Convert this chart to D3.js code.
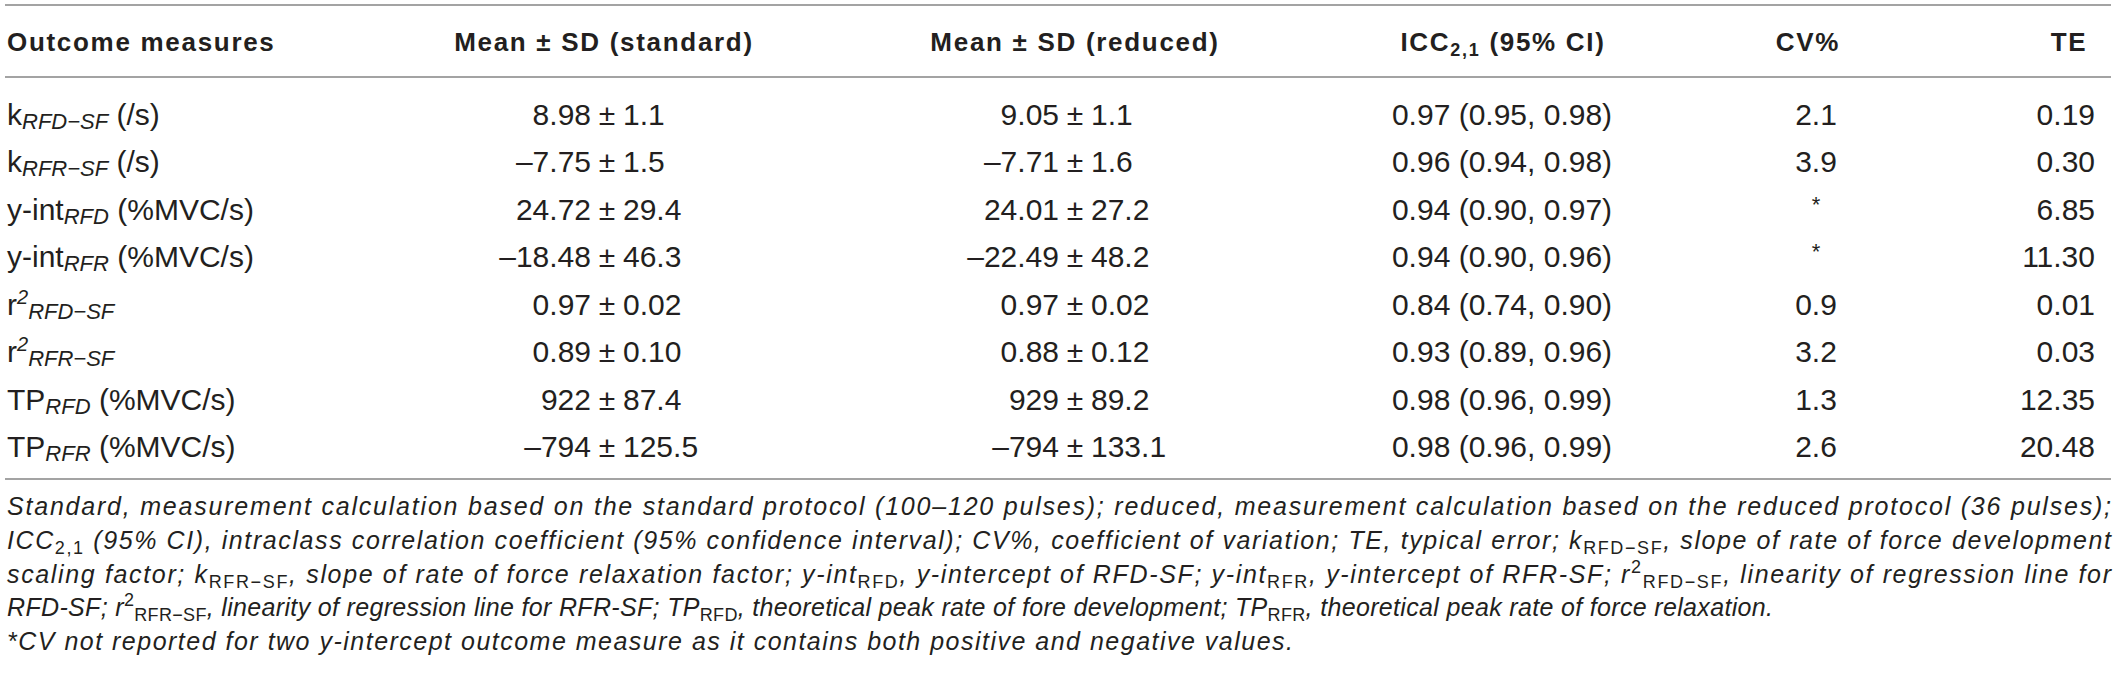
<!DOCTYPE html>
<html>
<head>
<meta charset="utf-8">
<script src="https://cdn.jsdelivr.net/npm/d3@7"></script>
<style>
  html, body { margin: 0; padding: 0; background: #fff; }
  svg { display: block; }
</style>
</head>
<body>
<script>
/**
 * Table data
 */

const headers = ["Outcome measures", "Mean \u00b1 SD (standard)", "Mean \u00b1 SD (reduced)", "ICC", "CV%", "TE"];

// row labels as [text, kind] segments: kind "" = plain, "sub", "sup"
const measures = [
    [["k", ""], ["RFD\u2212SF", "sub"], [" (/s)", ""]],
    [["k", ""], ["RFR\u2212SF", "sub"], [" (/s)", ""]],
    [["y-int", ""], ["RFD", "sub"], [" (%MVC/s)", ""]],
    [["y-int", ""], ["RFR", "sub"], [" (%MVC/s)", ""]],
    [["r", ""], ["2", "sup"], ["RFD\u2212SF", "sub"]],
    [["r", ""], ["2", "sup"], ["RFR\u2212SF", "sub"]],
    [["TP", ""], ["RFD", "sub"], [" (%MVC/s)", ""]],
    [["TP", ""], ["RFR", "sub"], [" (%MVC/s)", ""]]
];

const meanStandard = ["8.98", "\u20137.75", "24.72", "\u201318.48", "0.97", "0.89", "922", "\u2013794"];
const sdStandard   = ["1.1", "1.5", "29.4", "46.3", "0.02", "0.10", "87.4", "125.5"];
const meanReduced  = ["9.05", "\u20137.71", "24.01", "\u201322.49", "0.97", "0.88", "929", "\u2013794"];
const sdReduced    = ["1.1", "1.6", "27.2", "48.2", "0.02", "0.12", "89.2", "133.1"];
const icc          = ["0.97", "0.96", "0.94", "0.94", "0.84", "0.93", "0.98", "0.98"];
const iccLow       = ["0.95", "0.94", "0.90", "0.90", "0.74", "0.89", "0.96", "0.96"];
const iccHigh      = ["0.98", "0.98", "0.97", "0.96", "0.90", "0.96", "0.99", "0.99"];
const cvPercent    = ["2.1", "3.9", "*", "*", "0.9", "3.2", "1.3", "2.6"];
const typicalError = ["0.19", "0.30", "6.85", "11.30", "0.01", "0.03", "12.35", "20.48"];

// footnote lines; plain text is italic, "sub"/"sup" are upright
const footnotes = [
    [["Standard, measurement calculation based on the standard protocol (100\u2013120 pulses); reduced, measurement calculation based on the reduced protocol (36 pulses);", ""]],
    [["ICC", ""], ["2,1", "sub"], [" (95% CI), intraclass correlation coefficient (95% confidence interval); CV%, coefficient of variation; TE, typical error; k", ""], ["RFD\u2212SF", "sub"], [", slope of rate of force development", ""]],
    [["scaling factor; k", ""], ["RFR\u2212SF", "sub"], [", slope of rate of force relaxation factor; y-int", ""], ["RFD", "sub"], [", y-intercept of RFD-SF; y-int", ""], ["RFR", "sub"], [", y-intercept of RFR-SF; r", ""], ["2", "sup"], ["RFD\u2212SF", "sub"], [", linearity of regression line for", ""]],
    [["RFD-SF; r", ""], ["2", "sup"], ["RFR\u2212SF", "sub"], [", linearity of regression line for RFR-SF; TP", ""], ["RFD", "sub"], [", theoretical peak rate of fore development; TP", ""], ["RFR", "sub"], [", theoretical peak rate of force relaxation.", ""]],
    [["*CV not reported for two y-intercept outcome measure as it contains both positive and negative values.", ""]]
];
// right end of each footnote line (first three are justified)
const noteEnd = [2111, 2111, 2111, 1773, 1293];

/**
 * Layout
 */

const WIDTH = 2119;
const HEIGHT = 677;
const FONT = "'Liberation Sans', Arial, Helvetica, sans-serif";
const INK = "#231f20";
const RULE = "#a3a3a3";

const LEFT = 7;
const RIGHT = 2111;

const colX = {
    label: LEFT,
    standard: 607,   // position of the ± sign
    reduced: 1075,
    icc: 1502,
    cv: 1816,
    te: 2095         // right edge
};
const headerX = [LEFT, 604, 1075, 1503, 1808, 2069];

const rowY = d3.scaleLinear().domain([0, measures.length - 1]).range([125, 457]);
const noteY = d3.scaleLinear().domain([0, footnotes.length - 1]).range([515, 650]);

const svg = d3.select("body")
    .append("svg")
    .attr("width", WIDTH)
    .attr("height", HEIGHT)
    .style("font-family", FONT);

svg.append("rect")
    .attr("width", WIDTH)
    .attr("height", HEIGHT)
    .attr("fill", "#fff");

// horizontal rules
svg.selectAll("line.rule")
    .data([5, 77, 479])
    .join("line")
    .attr("class", "rule")
    .attr("x1", 5)
    .attr("x2", RIGHT)
    .attr("y1", d => d)
    .attr("y2", d => d)
    .attr("stroke", RULE)
    .attr("stroke-width", 2);

/**
 * Appends segments as tspans, shifting sub / sup with dy
 */
function addSegments(text, segs, opt) {
    let shift = 0;
    segs.forEach(([str, kind]) => {
        let target = 0;
        let ts = text.append("tspan").text(str);
        if (kind === "sub") {
            target = opt.subShift;
            ts.attr("font-size", opt.subSize).attr("font-style", opt.subStyle);
        } else if (kind === "sup") {
            target = -opt.supShift;
            ts.attr("font-size", opt.supSize).attr("font-style", opt.subStyle);
        }
        if (target !== shift) ts.attr("dy", target - shift);
        shift = target;
    });
}

// header
const header = svg.append("g")
    .attr("font-weight", "bold")
    .attr("font-size", 26)
    .attr("letter-spacing", 1.7)
    .attr("fill", INK);

headers.forEach((h, i) => {
    const t = header.append("text")
        .attr("x", headerX[i])
        .attr("y", 51)
        .attr("text-anchor", i === 0 ? "start" : "middle");
    if (h === "ICC") {
        addSegments(t, [["ICC", ""], ["2,1", "sub"], [" (95% CI)", ""]],
            { subSize: 18, subShift: 5, supSize: 18, supShift: 10, subStyle: "normal" });
    } else {
        t.text(h);
    }
});

// body rows
const body = svg.append("g")
    .attr("font-size", 30)
    .attr("fill", INK);

const rows = body.selectAll("g.row")
    .data(d3.range(measures.length))
    .join("g")
    .attr("class", "row")
    .attr("transform", i => `translate(0,${rowY(i)})`);

rows.each(function (i) {
    const g = d3.select(this);

    const lab = g.append("text").attr("x", colX.label);
    addSegments(lab, measures[i],
        { subSize: 22, subShift: 4, supSize: 20, supShift: 11, subStyle: "italic" });

    [[colX.standard, meanStandard[i], sdStandard[i]],
     [colX.reduced, meanReduced[i], sdReduced[i]]].forEach(([x, m, s]) => {
        g.append("text").attr("x", x - 16).attr("text-anchor", "end").text(m);
        g.append("text").attr("x", x).attr("text-anchor", "middle").text("\u00b1");
        g.append("text").attr("x", x + 16).attr("text-anchor", "start").text(s);
    });

    g.append("text")
        .attr("x", colX.icc)
        .attr("text-anchor", "middle")
        .text(`${icc[i]} (${iccLow[i]}, ${iccHigh[i]})`);

    const cv = g.append("text")
        .attr("x", colX.cv)
        .attr("text-anchor", "middle")
        .text(cvPercent[i]);
    if (cvPercent[i] === "*") cv.attr("font-size", 22).attr("dy", -8);

    g.append("text")
        .attr("x", colX.te)
        .attr("text-anchor", "end")
        .text(typicalError[i]);
});

// footnotes
const notes = svg.append("g")
    .attr("font-size", 25)
    .attr("font-style", "italic")
    .attr("fill", INK);

footnotes.forEach((segs, i) => {
    const t = notes.append("text")
        .attr("x", LEFT)
        .attr("y", noteY(i));
    addSegments(t, segs,
        { subSize: 18, subShift: 5, supSize: 18, supShift: 10, subStyle: "normal" });
    t.attr("textLength", noteEnd[i] - LEFT).attr("lengthAdjust", "spacing");
});
</script>
</body>
</html>
